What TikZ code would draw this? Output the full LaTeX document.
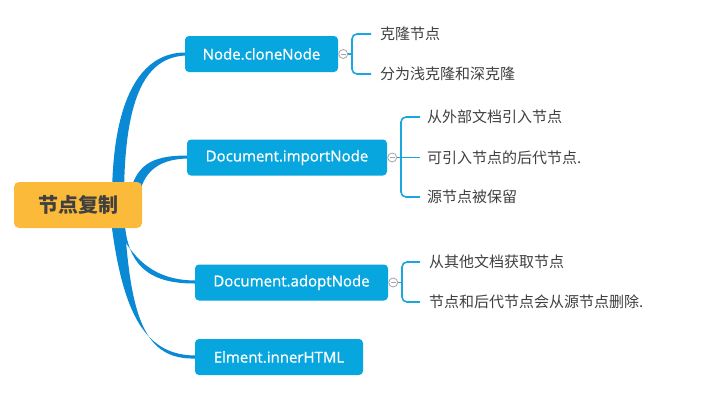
\documentclass[tikz,border=0pt]{standalone}
\usepackage{fontspec}
\setmainfont{Open Sans}
\newfontfamily\topicfont{Open Sans}[FakeBold=0.8]
\newfontfamily\cjk{Noto Sans CJK SC}
\usetikzlibrary{calc}
\definecolor{rootfill}{HTML}{FCBA3A}
\definecolor{nodefill}{HTML}{07A6DE}
\definecolor{mainline}{HTML}{0A89D4}
\definecolor{brline}{HTML}{1AA6DE}
\definecolor{txt}{HTML}{404040}
\begin{document}
\begin{tikzpicture}[x=1pt,y=-1pt,
  rootbox/.style={fill=rootfill,rounded corners=5pt,minimum width=128pt,minimum height=46pt,inner sep=0pt,font=\cjk\bfseries\fontsize{20}{24}\selectfont,text=txt},
  topic/.style={fill=nodefill,rounded corners=4pt,minimum height=36pt,inner sep=0pt,font=\topicfont\fontsize{15}{18}\selectfont,text=white},
  leaf/.style={anchor=west,inner sep=0pt,font=\cjk\fontsize{15}{18}\selectfont,text=txt},
  fold/.style={circle,draw=gray!70,fill=white,line width=0.8pt,minimum size=9pt,inner sep=0pt},
  br/.style={draw=brline,line width=1.6pt,rounded corners=5pt},
  trunk/.style={fill=mainline}
]
\useasboundingbox (0,0) rectangle (709,408);
\fill[white] (0,0) rectangle (709,408);

% trunks (tapered) behind the root
\coordinate (s1) at (112,200);
\fill[trunk] (s1) .. controls (112,100) and (140,52) .. (186,52.5) -- (186,55.5) .. controls (144,57) and (124,100) .. ($(s1)+(12,0)$) -- cycle;
\coordinate (s2) at (128,200);
\fill[trunk] (s2) .. controls (135,165) and (150,155.5) .. (188,155.5) -- (188,158.5) .. controls (155,159) and (140,175) .. ($(s2)+(10,5)$) -- cycle;
\coordinate (s3) at (110,212);
\fill[trunk] (s3) .. controls (128,255) and (150,280.5) .. (196,280.5) -- (196,283.5) .. controls (145,284) and (125,262) .. ($(s3)+(14,0)$) -- cycle;
\coordinate (s4) at (110,212);
\fill[trunk] (s4) .. controls (122,320) and (148,355.5) .. (196,355.5) -- (196,358.5) .. controls (145,360) and (130,320) .. ($(s4)+(14,0)$) -- cycle;

\node[rootbox] (root) at (78,205) {节点复制};

\node[topic,minimum width=153pt] (clone) at (261.5,54) {Node.cloneNode};
\node[topic,minimum width=200pt] (import) at (287,157.5) {Document.importNode};
\node[topic,minimum width=193pt] (adopt) at (291.5,282.5) {Document.adoptNode};
\node[topic,minimum width=168pt] (inner) at (279,357) {Elment.innerHTML};

% fold markers
\node[fold] (f1) at ($(clone.east)+(5,0)$) {};
\node[fold] (f2) at ($(import.east)+(5,0)$) {};
\node[fold] (f3) at ($(adopt.east)+(5,0)$) {};
\foreach \f in {f1,f2,f3}{\draw[gray!70,line width=0.8pt] ($(\f.center)+(-2.5,0)$) -- ($(\f.center)+(2.5,0)$);}

% leaves
\node[leaf] (a1) at (380,34) {克隆节点};
\node[leaf] (a2) at (380,74) {分为浅克隆和深克隆};
\node[leaf] (b1) at (427,117) {从外部文档引入节点};
\node[leaf] (b2) at (427,157.5) {可引入节点的后代节点.};
\node[leaf] (b3) at (427,197) {源节点被保留};
\node[leaf] (d1) at (429,262) {从其他文档获取节点};
\node[leaf] (d2) at (429,302) {节点和后代节点会从源节点删除.};

% brackets
\draw[br] (f1.east) -- (352,54);
\draw[br] ($(a1.west)+(-9,0)$) -| (352,54) |- ($(a2.west)+(-9,0)$);
\draw[br] (f2.east) -- ($(b2.west)+(-7,0)$);
\draw[br] ($(b1.west)+(-7,0)$) -| (401,157.5) |- ($(b3.west)+(-7,0)$);
\draw[br] (f3.east) -- (402,282.5);
\draw[br] ($(d1.west)+(-9,0)$) -| (402,282.5) |- ($(d2.west)+(-9,0)$);
\end{tikzpicture}
\end{document}
